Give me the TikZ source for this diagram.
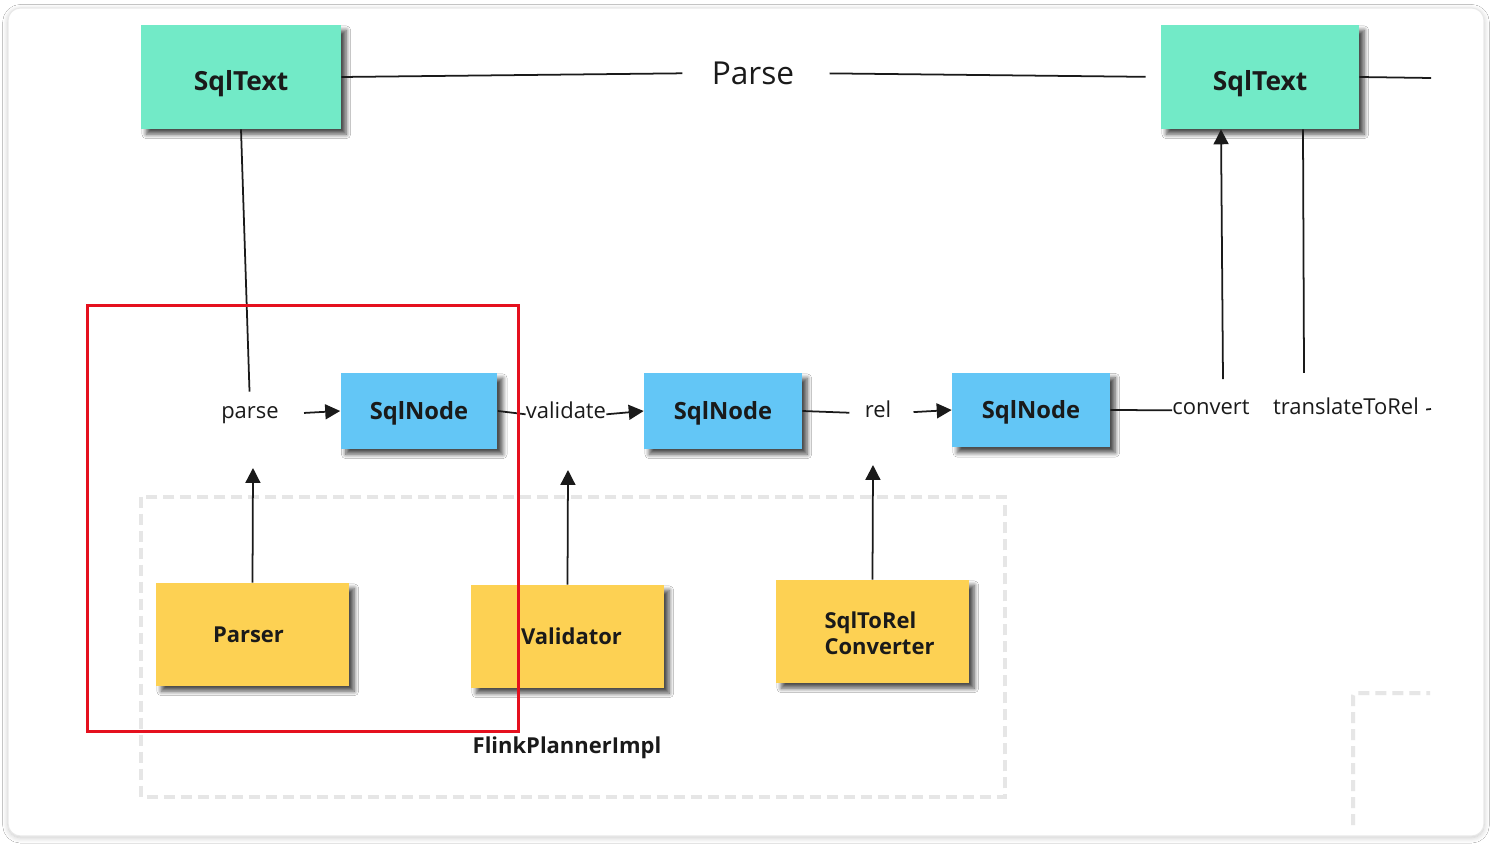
\documentclass[tikz,border=0pt]{standalone}
\usepackage{fontspec}
\setmainfont{Open Sans}
\usetikzlibrary{arrows.meta,shadows.blur}
\definecolor{tealbox}{HTML}{72EAC7}
\definecolor{bluebox}{HTML}{63C6F6}
\definecolor{yellowbox}{HTML}{FDD153}
\definecolor{redline}{HTML}{E5101E}
\definecolor{dashgray}{HTML}{E6E6E6}
\definecolor{ink}{HTML}{1A1A1A}
\tikzset{
  box/.style={draw=none, inner sep=0pt, text=ink, text depth=0pt,
    blur shadow={shadow xshift=3pt, shadow yshift=-3pt, shadow blur radius=2.5pt, shadow blur steps=8, shadow opacity=70}},
  greenbox/.style={box, fill=tealbox, minimum width=4cm, minimum height=2.08cm, text height=15.9pt, font=\bfseries\fontsize{15}{18}\selectfont},
  nodebox/.style={box, fill=bluebox, minimum width=3.14cm, minimum height=1.52cm, text height=10pt, font=\bfseries\fontsize{13.5}{16}\selectfont},
  toolbox/.style={box, fill=yellowbox, minimum width=3.86cm, minimum height=2.06cm, text height=8.75pt, font=\bfseries\fontsize{12.5}{15}\selectfont},
  lbl/.style={inner sep=0pt, anchor=base, text=ink, font=\fontsize{12.5}{15}\selectfont},
  conn/.style={draw=ink, line width=1pt},
  arr/.style={conn, -{Triangle[length=8.5pt,width=8.5pt]}},
  grpline/.style={draw=dashgray, line width=0.08cm, dash pattern=on 0.22cm off 0.12cm},
}
\begin{document}
\begin{tikzpicture}[x=0.02cm,y=-0.02cm]
\useasboundingbox (0,0) rectangle (1492,844);
\fill[white] (0,0) rectangle (1492,844);
\path[fill=white, draw=gray!18, line width=0.6pt, rounded corners=0.25cm,
  blur shadow={shadow xshift=0pt, shadow yshift=-1pt, shadow blur radius=3pt, shadow blur steps=8, shadow opacity=22}]
  (8,8) rectangle (1484,836);

% group outlines
\draw[grpline] (141,497) rectangle (1005,797);
\draw[grpline, rounded corners=0.06cm] (1353,825) -- (1353,693) -- (1430,693);

% nodes
\node[greenbox] (st1) at (241,77) {SqlText};
\node[greenbox, minimum width=3.96cm] (st2) at (1260,77) {SqlText};
\node[inner sep=0pt, text=ink, font=\fontsize{18}{22}\selectfont] (parseT) at (753,73) {Parse};

\node[nodebox] (sn1) at (419,411) {SqlNode};
\node[nodebox, minimum width=3.16cm] (sn2) at (723,411) {SqlNode};
\node[nodebox, minimum width=3.16cm, minimum height=1.5cm] (sn3) at (1031,410) {SqlNode};

\node[lbl] (parseL) at (250,419) {parse};
\node[lbl] (valL) at (566,419) {validate};
\node[lbl] (relL) at (878,418) {rel};
\node[lbl] (convL) at (1211,415) {convert};
\node[lbl] (transL) at (1346,415) {translateToRel};

\node[toolbox] (parser) at (252.5,634.5) {Parser\hspace*{0.16cm}};
\node[toolbox] (valid) at (567.5,636.5) {\hspace*{0.16cm}Validator};
\node[toolbox, align=left, text height=26.6pt] (s2r) at (872.5,631.5) {\hspace*{0.28cm}SqlToRel\\\hspace*{0.28cm}Converter};

\node[inner sep=0pt, text=ink, font=\bfseries\fontsize{12.5}{15}\selectfont] (fpi) at (567,748) {FlinkPlannerImpl};

\coordinate (tipP) at (253,468);
\coordinate (tipV) at (568,470);
\coordinate (tipR) at (873,465);
\coordinate (endR) at (1431,78);
\coordinate (endT) at (1431,409);

% connectors
\draw[conn, shorten >=0.58cm] (st1.east) -- (parseT.west);
\draw[conn, shorten <=0.7cm, shorten >=0.3cm] (parseT.east) -- (st2.west);
\draw[conn] (st2.east) -- (endR);
\draw[conn, shorten >=0.3cm] (st1.south) -- (parseL.north);
\draw[arr, shorten <=0.5cm] (parseL.mid east) -- (sn1.west);
\draw[conn] (sn1.east) -- (valL.mid west);
\draw[arr] (valL.mid east) -- (sn2.west);
\draw[conn, shorten >=0.3cm] (sn2.east) -- (relL.mid west);
\draw[arr, shorten <=0.44cm] (relL.mid east) -- (sn3.west);
\draw[conn] (sn3.east) -- (convL.mid west);
\draw[arr] ([xshift=0.24cm, yshift=0.42cm]convL.north) -- ([xshift=-0.78cm]st2.south);
\draw[conn] ([xshift=-0.84cm, yshift=0.5cm]transL.north) -- ([xshift=0.86cm]st2.south);
\draw[conn, shorten <=0.14cm] (transL.mid east) -- (endT);
\draw[arr] (parser.north) -- (tipP);
\draw[arr] (valid.north) -- (tipV);
\draw[arr] (s2r.north) -- (tipR);

% highlight
\draw[redline, line width=0.06cm] (87,306) rectangle (518,731);
\end{tikzpicture}
\end{document}
